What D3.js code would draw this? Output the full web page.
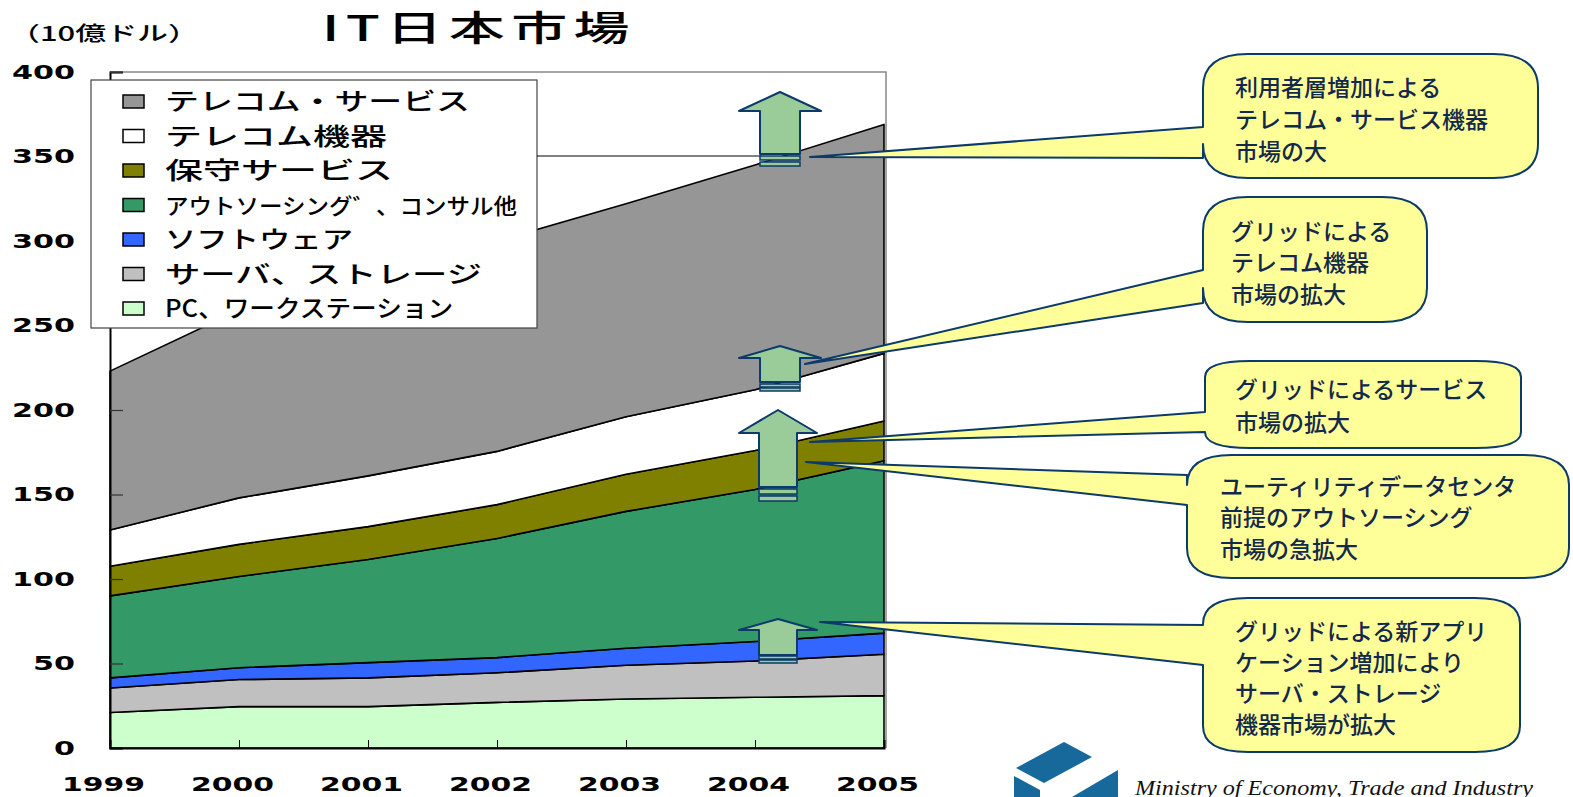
<!DOCTYPE html>
<html>
<head>
<meta charset="utf-8">
<script src="https://cdn.jsdelivr.net/npm/d3@7"></script>
<style>
  body { margin: 0; background: #fff; }
  svg { display: block; }
  .jp { font-family: "Noto Sans CJK JP", sans-serif; }
  .num { font-family: "DejaVu Sans", sans-serif; font-weight: bold; }
</style>
</head>
<body>
<script>
// data (10億ドル)
var years = [1999, 2000, 2001, 2002, 2003, 2004, 2005];
var pc = [21, 24.5, 24.5, 27, 29, 30, 31];
var server = [14.5, 16, 17, 17.5, 20, 21.5, 24.5];
var software = [6, 7, 9, 9, 10, 11.5, 12.5];
var outsourcing = [48.5, 54, 61, 70.5, 81, 90, 102];
var maintenance = [17.5, 19, 19.5, 20, 22, 23, 23.5];
var telecomEquip = [21.5, 27.5, 30, 31.5, 34, 36, 40];
var telecomService = [94, 111, 119, 124.5, 126, 133, 135.5];

var seriesKeys = ["pc", "server", "software", "outsourcing", "maintenance", "equip", "service"];
var seriesNames = ["PC、ワークステーション", "サーバ、ストレージ", "ソフトウェア",
  "アウトソーシング゛、コンサル他", "保守サービス", "テレコム機器", "テレコム・サービス"];
var seriesColors = ["#ccffcc", "#c0c0c0", "#3366ff", "#339966", "#808000", "#ffffff", "#969696"];
var yTicks = [0, 50, 100, 150, 200, 250, 300, 350, 400];

var calloutTexts = [
  ["利用者層増加による", "テレコム・サービス機器", "市場の大"],
  ["グリッドによる", "テレコム機器", "市場の拡大"],
  ["グリッドによるサービス", "市場の拡大"],
  ["ユーティリティデータセンタ", "前提のアウトソーシング", "市場の急拡大"],
  ["グリッドによる新アプリ", "ケーション増加により", "サーバ・ストレージ", "機器市場が拡大"]
];

var W = 1573, H = 797;
var svg = d3.select("body").append("svg").attr("width", W).attr("height", H);

var x = d3.scaleLinear().domain([1999, 2005]).range([110, 884]);
var y = d3.scaleLinear().domain([0, 400]).range([748, 72]);

var cols = [pc, server, software, outsourcing, maintenance, telecomEquip, telecomService];
var rows = years.map(function(yr, i) {
  var r = { year: yr };
  seriesKeys.forEach(function(k, j) { r[k] = cols[j][i]; });
  return r;
});
var stacked = d3.stack().keys(seriesKeys)(rows);

// plot frame (top/right in grey)
svg.append("path")
  .attr("d", "M" + x(1999) + "," + y(400) + "H" + (x(2005) + 2) + "V" + y(0))
  .attr("fill", "none").attr("stroke", "#888").attr("stroke-width", 1.5);

var area = d3.area()
  .x(function(d) { return x(d.data.year); })
  .y0(function(d) { return y(d[0]); })
  .y1(function(d) { return y(d[1]); });

svg.append("g").selectAll("path")
  .data(stacked)
  .enter().append("path")
  .attr("d", area)
  .attr("fill", function(d, i) { return seriesColors[i]; })
  .attr("stroke", "#000")
  .attr("stroke-width", 1.6)
  .attr("stroke-linejoin", "round");

// axes
var yAxis = svg.append("g")
  .attr("transform", "translate(" + x(1999) + ",0)")
  .call(d3.axisLeft(y).tickValues(yTicks).tickSize(-13).tickPadding(35).tickFormat(d3.format("d")));
yAxis.select(".domain").attr("stroke", "#000").attr("stroke-width", 2);
yAxis.selectAll(".tick line").attr("stroke", "#333").attr("stroke-width", 1.2);
yAxis.selectAll("text").attr("class", "num").attr("font-size", 20).attr("fill", "#000")
  .attr("textLength", function(d) { return String(d).length * 21; })
  .attr("lengthAdjust", "spacingAndGlyphs");

var xAxis = svg.append("g")
  .attr("transform", "translate(0," + y(0) + ")")
  .call(d3.axisBottom(x).tickValues(years).tickSize(-8).tickPadding(29).tickFormat(d3.format("d")));
xAxis.select(".domain").attr("stroke", "#000").attr("stroke-width", 2);
xAxis.selectAll(".tick line").attr("stroke", "#000").attr("stroke-width", 1);
xAxis.selectAll("text").attr("class", "num").attr("font-size", 20)
  .attr("textLength", 83).attr("lengthAdjust", "spacingAndGlyphs").attr("dx", "-7px").attr("fill", "#000");

// title and unit
svg.append("text").attr("class", "jp")
  .attr("x", 322).attr("y", 41).attr("font-size", 35).attr("font-weight", 500)
  .attr("letter-spacing", "4px")
  .attr("textLength", 314).attr("lengthAdjust", "spacingAndGlyphs")
  .text("IT日本市場");
svg.append("text").attr("class", "jp")
  .attr("x", 9).attr("y", 41).attr("font-size", 20).attr("font-weight", 500)
  .attr("textLength", 190).attr("lengthAdjust", "spacingAndGlyphs")
  .text("（10億ドル）");

// legend
var legendWidths = [305, 222, 228, 352, 188, 317, 288];
var lg = svg.append("g");
lg.append("rect").attr("x", 91).attr("y", 80).attr("width", 446).attr("height", 248)
  .attr("fill", "#fff").attr("stroke", "#444").attr("stroke-width", 1.2);
var order = d3.range(seriesKeys.length).reverse();
order.forEach(function(si, row) {
  var cy = 101 + row * 34.5;
  lg.append("rect").attr("x", 123).attr("y", cy - 6).attr("width", 21).attr("height", 13)
    .attr("fill", seriesColors[si]).attr("stroke", "#000").attr("stroke-width", 1.5);
  lg.append("text").attr("class", "jp")
    .attr("x", 165).attr("y", cy + 9).attr("font-size", row === 3 ? 22 : 24)
    .attr("font-weight", 500)
    .attr("textLength", legendWidths[row]).attr("lengthAdjust", "spacingAndGlyphs")
    .attr("fill", "#000")
    .text(seriesNames[si]);
});

// thin leader line from legend
svg.append("line").attr("x1", 537).attr("y1", 156).attr("x2", 762).attr("y2", 156)
  .attr("stroke", "#000").attr("stroke-width", 1);

// up arrows (annotation layout)
var arrows = [
  { cx: 780, tip: 92, hw: 41, base: 111, sw: 20, bot: 154, s: [156, 160, 162, 166] },
  { cx: 780, tip: 346, hw: 41, base: 358, sw: 20, bot: 382, s: [384, 387, 388, 391] },
  { cx: 778, tip: 410, hw: 39, base: 433, sw: 19, bot: 487, s: [489, 494, 496, 501] },
  { cx: 778, tip: 619, hw: 39, base: 630, sw: 19, bot: 655, s: [656, 659, 660, 663] }
];
var ag = svg.append("g");
arrows.forEach(function(a) {
  ag.append("path")
    .attr("d", "M" + a.cx + "," + a.tip + "L" + (a.cx + a.hw) + "," + a.base +
      "L" + (a.cx + a.sw) + "," + a.base + "L" + (a.cx + a.sw) + "," + a.bot +
      "L" + (a.cx - a.sw) + "," + a.bot + "L" + (a.cx - a.sw) + "," + a.base +
      "L" + (a.cx - a.hw) + "," + a.base + "Z")
    .attr("fill", "#99cc99").attr("stroke", "#0b3a6b").attr("stroke-width", 2)
    .attr("stroke-linejoin", "round");
  [[a.s[0], a.s[1]], [a.s[2], a.s[3]]].forEach(function(s) {
    ag.append("rect").attr("x", a.cx - a.sw).attr("y", s[0])
      .attr("width", a.sw * 2).attr("height", s[1] - s[0])
      .attr("fill", "#99cc99").attr("stroke", "#0b3a6b").attr("stroke-width", 1.5);
  });
});

// callout balloons
var balloons = [
  { x: 1203, y: 54, w: 335, h: 124, rx: 45, ry: 34, t1: 127, t2: 158, tip: [810, 157], tx: 1235, ly: [88, 120, 152] },
  { x: 1203, y: 197, w: 224, h: 125, rx: 45, ry: 34, t1: 270, t2: 303, tip: [805, 364], tx: 1231, ly: [232, 263, 295] },
  { x: 1205, y: 361, w: 316, h: 87, rx: 45, ry: 16, t1: 412, t2: 432, tip: [810, 442], tx: 1235, ly: [390, 423] },
  { x: 1187, y: 455, w: 382, h: 123, rx: 45, ry: 30, t1: 475, t2: 505, tip: [806, 462], tx: 1220, ly: [487, 518, 550] },
  { x: 1203, y: 598, w: 317, h: 154, rx: 45, ry: 26, t1: 625, t2: 665, tip: [820, 622], tx: 1235, ly: [632, 663, 694, 725] }
];
function balloonPath(b) {
  var x0 = b.x, y0 = b.y, x1 = b.x + b.w, y1 = b.y + b.h;
  return "M" + (x0 + b.rx) + "," + y0 +
    "L" + (x1 - b.rx) + "," + y0 + "Q" + x1 + "," + y0 + " " + x1 + "," + (y0 + b.ry) +
    "L" + x1 + "," + (y1 - b.ry) + "Q" + x1 + "," + y1 + " " + (x1 - b.rx) + "," + y1 +
    "L" + (x0 + b.rx) + "," + y1 + "Q" + x0 + "," + y1 + " " + x0 + "," + (y1 - b.ry) +
    "L" + x0 + "," + b.t2 + "L" + b.tip[0] + "," + b.tip[1] + "L" + x0 + "," + b.t1 +
    "L" + x0 + "," + (y0 + b.ry) + "Q" + x0 + "," + y0 + " " + (x0 + b.rx) + "," + y0 + "Z";
}
var cg = svg.append("g");
balloons.forEach(function(b, i) {
  cg.append("path").attr("d", balloonPath(b))
    .attr("fill", "#ffff99").attr("stroke", "#0b3a6b").attr("stroke-width", 2)
    .attr("stroke-linejoin", "round");
  calloutTexts[i].forEach(function(t, j) {
    cg.append("text").attr("class", "jp")
      .attr("x", b.tx).attr("y", b.ly[j] + 8).attr("font-size", 23).attr("font-weight", 500)
      .attr("fill", "#13294b")
      .text(t);
  });
});

// METI logo mark + caption
var logo = svg.append("g").attr("fill", "#17689b");
logo.append("path").attr("d", "M1016,768L1064,742L1092,757L1044,783Z");
logo.append("path").attr("d", "M1014,776L1040,790L1040,797L1014,797Z");
logo.append("path").attr("d", "M1118,770L1118,797L1072,797Z");
svg.append("text")
  .attr("x", 1135).attr("y", 795)
  .attr("font-family", "'Liberation Serif', serif").attr("font-style", "italic")
  .attr("font-size", 22).attr("textLength", 398).attr("lengthAdjust", "spacingAndGlyphs")
  .attr("fill", "#111")
  .text("Ministry of Economy, Trade and Industry");
</script>
</body>
</html>
